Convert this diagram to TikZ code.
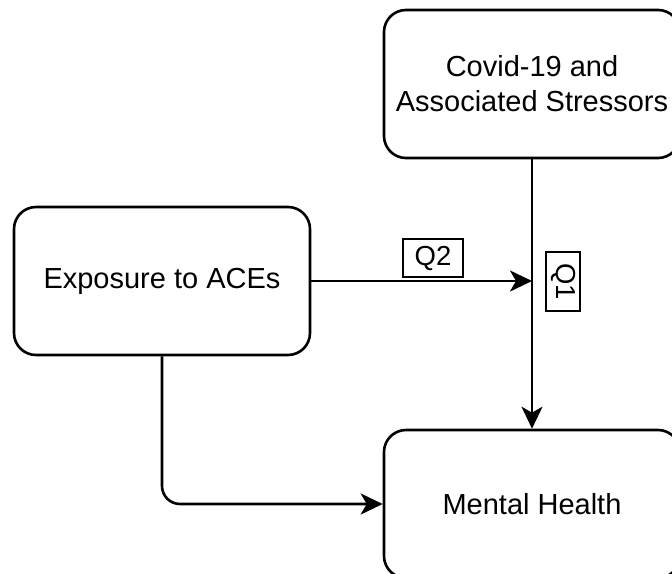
\documentclass[tikz,border=0pt]{standalone}
\usepackage{fontspec}
\setmainfont{Liberation Sans}
\usetikzlibrary{arrows.meta}
\tikzset{
  box/.style={draw, line width=2.6pt, rounded corners=22pt, minimum width=296pt, minimum height=148pt, inner sep=0pt, align=center, font=\fontsize{29}{35}\selectfont},
  qlabel/.style={draw, line width=2.2pt, inner sep=0pt, font=\fontsize{27.5}{33}\selectfont},
  conn/.style={line width=2.6pt, -{Stealth[length=22pt,width=21pt,inset=6pt]}}
}
\begin{document}
\begin{tikzpicture}[x=1pt,y=-1pt]
\useasboundingbox (0,0) rectangle (672,573);
\clip (0,0) rectangle (672,573);
\node[box] (covid) at (532,84) {Covid-19 and\\Associated Stressors};
\node[box] (aces) at (162,281) {Exposure to ACEs};
\node[box] (mh) at (532,504) {Mental Health};
\coordinate (j) at (covid.south |- aces.east);
\draw[conn] (covid.south) -- (mh.north);
\draw[conn] (aces.east) -- (j);
\draw[conn, rounded corners=18pt] (aces.south) |- (mh.west);
\node[qlabel, minimum width=60pt, minimum height=38pt] (q2) at (433,258) {Q2};
\node[qlabel, minimum width=59pt, minimum height=34pt, rotate=-90] (q1) at (563,281.5) {Q1};
\end{tikzpicture}
\end{document}
